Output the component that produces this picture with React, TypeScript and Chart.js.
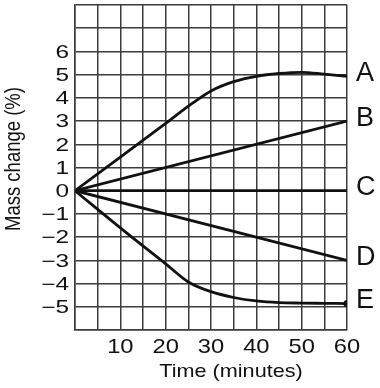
import React, { useEffect, useRef } from 'react';
import { Chart, registerables } from 'chart.js';

Chart.register(...registerables);

const FONT = "'Liberation Sans', Arial, Helvetica, sans-serif";

// Series data (time in minutes, mass change in %)
const seriesLabels = ['A', 'B', 'C', 'D', 'E'];
const timeA = [0, 10, 20, 26, 30, 35, 40, 45, 50, 55, 60];
const massA = [0, 1.45, 2.9, 3.78, 4.3, 4.7, 4.93, 5.05, 5.1, 5.02, 4.93];
const timeB = [0, 60];
const massB = [0, 3];
const timeC = [0, 60];
const massC = [0, 0];
const timeD = [0, 60];
const massD = [0, -3];
const timeE = [0, 10, 20, 25, 30, 35, 40, 45, 50, 55, 60];
const massE = [0, -1.6, -3.15, -3.93, -4.35, -4.6, -4.75, -4.82, -4.84, -4.85, -4.86];

const xTickLabels = [10, 20, 30, 40, 50, 60];
const yTickLabels = [6, 5, 4, 3, 2, 1, 0, -1, -2, -3, -4, -5];

const xTitle = 'Time (minutes)';
const yTitle = 'Mass change (%)';

const toPoints = (t: number[], m: number[]) => t.map((x, i) => ({ x, y: m[i] }));

const TITLE_STRETCH = 1.17;
const XTICK_STRETCH = 1.13;
const YTICK_STRETCH = 1.38;

const fmt = (n: number) => (n < 0 ? '\u2212' + Math.abs(n) : String(n));

const stretchedText = (ctx: any, text: string, x: number, y: number, sx: number, rot = 0) => {
  ctx.save();
  ctx.translate(x, y);
  ctx.scale(sx, 1);
  if (rot) ctx.rotate(rot);
  ctx.fillText(text, 0, 0);
  ctx.restore();
};

const annotPlugin = {
  id: 'annot',
  afterDraw(chart: any) {
    const { ctx, chartArea, scales } = chart;
    ctx.save();
    ctx.fillStyle = '#111';

    // Y tick labels
    ctx.font = `17.7px ${FONT}`;
    ctx.textAlign = 'right';
    ctx.textBaseline = 'alphabetic';
    yTickLabels.forEach((v) => {
      stretchedText(ctx, fmt(v), chartArea.left - 6, scales.y.getPixelForValue(v) + 6.3, YTICK_STRETCH);
    });

    // X tick labels
    ctx.font = `21px ${FONT}`;
    ctx.textAlign = 'center';
    xTickLabels.forEach((v) => {
      stretchedText(ctx, fmt(v), scales.x.getPixelForValue(v), chartArea.bottom + 22.5, XTICK_STRETCH);
    });

    // Series letters at line ends
    ctx.font = `27px ${FONT}`;
    ctx.textAlign = 'left';
    ctx.textBaseline = 'middle';
    chart.data.datasets.forEach((ds: any) => {
      const last = ds.data[ds.data.length - 1];
      ctx.fillText(ds.label, chartArea.right + 9, scales.y.getPixelForValue(last.y) - 3);
    });

    // Axis titles
    ctx.font = `18.5px ${FONT}`;
    ctx.textAlign = 'center';
    ctx.textBaseline = 'alphabetic';
    stretchedText(ctx, xTitle, 231, 377, TITLE_STRETCH);
    stretchedText(ctx, yTitle, 20, 159, TITLE_STRETCH, -Math.PI / 2);
    ctx.restore();
  },
};

export default function App() {
  const ref = useRef<HTMLCanvasElement | null>(null);

  useEffect(() => {
    if (!ref.current) return;
    const mk = (label: string, t: number[], m: number[], curved: boolean, endDot = false) => ({
      label,
      data: toPoints(t, m),
      borderColor: '#111',
      backgroundColor: '#111',
      borderWidth: 2.8,
      fill: false,
      cubicInterpolationMode: curved ? 'monotone' : 'default',
      pointRadius: (c: any) => (endDot && c.dataIndex === t.length - 1 ? 2.2 : 0),
      pointHoverRadius: 0,
    });
    const chart = new Chart(ref.current, {
      type: 'line',
      data: {
        datasets: [
          mk(seriesLabels[0], timeA, massA, true),
          mk(seriesLabels[1], timeB, massB, false),
          mk(seriesLabels[2], timeC, massC, false),
          mk(seriesLabels[3], timeD, massD, false),
          mk(seriesLabels[4], timeE, massE, true, true),
        ] as any,
      },
      options: {
        animation: false,
        responsive: false,
        events: [],
        layout: { padding: { top: 5, right: 33, left: 0, bottom: 0 } },
        plugins: { legend: { display: false }, tooltip: { enabled: false } },
        scales: {
          x: {
            type: 'linear',
            min: 0,
            max: 60,
            afterFit: (s: any) => {
              s.height = 58;
              s.paddingLeft = 0;
              s.paddingRight = 0;
            },
            grid: { color: '#3c3c3c', lineWidth: 1.5, drawTicks: false },
            border: { display: true, color: '#3c3c3c', width: 1.5 },
            ticks: { stepSize: 5, autoSkip: false, maxRotation: 0, display: false },
          },
          y: {
            type: 'linear',
            min: -6,
            max: 8,
            afterFit: (s: any) => {
              s.width = 75;
              s.paddingTop = 0;
              s.paddingBottom = 0;
            },
            grid: { color: '#3c3c3c', lineWidth: 1.5, drawTicks: false },
            border: { display: true, color: '#3c3c3c', width: 1.5 },
            ticks: { stepSize: 1, autoSkip: false, display: false },
          },
        },
      },
      plugins: [annotPlugin],
    });
    return () => chart.destroy();
  }, []);

  return (
    <div style={{ position: 'absolute', left: 0, top: 0, width: 380, height: 388, background: '#fff' }}>
      <canvas ref={ref} width={380} height={388} />
    </div>
  );
}
